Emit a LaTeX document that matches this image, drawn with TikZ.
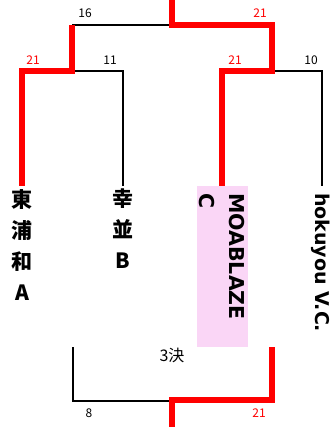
\documentclass[tikz,border=0pt]{standalone}
\usepackage{fontspec}
\newfontfamily\jpfont{Noto Sans CJK JP}
\newfontfamily\latfont{DejaVu Sans}
\usetikzlibrary{positioning}

\begin{document}
\begin{tikzpicture}[x=1pt, y=-1pt,
        win/.style={red, line width=6pt, line join=miter},
        lose/.style={black, line width=2pt},
        score/.style={font=\jpfont\fontsize{12}{12}\selectfont, inner sep=0pt},
        wscore/.style={score, red},
        team/.style={font=\jpfont\bfseries\fontsize{21}{31}\selectfont, align=center, inner sep=0pt},
        vteam/.style={font=\latfont\bfseries\fontsize{19}{30}\selectfont, anchor=west, rotate=-90, inner sep=0pt}]
    \useasboundingbox (0,0) rectangle (331,427);

    % Points of the bracket:
    \coordinate (top) at (172,0);
    \coordinate (finL) at (72,25);
    \coordinate (finR) at (272,25);
    \coordinate (semL) at (72,71);
    \coordinate (semR) at (272,71);
    \coordinate (t1) at (22,186);
    \coordinate (t2) at (123,186);
    \coordinate (t3) at (222,186);
    \coordinate (t4) at (322,186);
    \coordinate (bL) at (73,347);
    \coordinate (bR) at (272,347);
    \coordinate (bot) at (172,427);

    % Pink box behind the winner:
    \fill[fill={rgb,255:red,250;green,214;blue,246}] (197,186) rectangle (248,347);

    % Losing lines:
    \draw[lose] (finL) -- (top |- finL);
    \draw[lose] (semL) -- (t2 |- semL) -- (t2);
    \draw[lose] (semR) -- (t4 |- semR) -- (t4);
    \draw[lose] (bL) -- (bL |- 0,401) -- (bot |- 0,401);

    % Winning lines:
    \draw[win] (top) -- (top |- finR) -- (finR) -- (semR) -- (t3 |- semR) -- (t3);
    \draw[win] (finL) -- (semL) -- (t1 |- semL) -- (t1);
    \draw[win] (bR) -- (bR |- 0,400) -- (bot |- 0,400) -- (bot);

    % Scores:
    \node[score] (s16) at (85,13) {16};
    \node[wscore] (s21a) at (260,13) {21};
    \node[wscore] (s21b) at (33,60) {21};
    \node[score] (s11) at (110,60) {11};
    \node[wscore] (s21c) at (235,60) {21};
    \node[score] (s10) at (311,60) {10};
    \node[score] (s8) at (89,413) {8};
    \node[wscore] (s21d) at (259,413) {21};

    % Teams:
    \node[team, anchor=north] (urawa) at (22,189) {東\\浦\\和\\A};
    \node[team, anchor=north] (saiwai) at (123,189) {幸\\並\\B};
    \node[vteam, align=left, font=\latfont\bfseries\fontsize{20.5}{30}\selectfont] (moa) at (222,193) {MOABLAZE\\C};
    \node[vteam] (hoku) at (321,193) {hokuyou V.C.};
    \node[font=\jpfont\fontsize{16}{16}\selectfont, inner sep=0pt] (third) at (172,355) {3決};
\end{tikzpicture}
\end{document}
